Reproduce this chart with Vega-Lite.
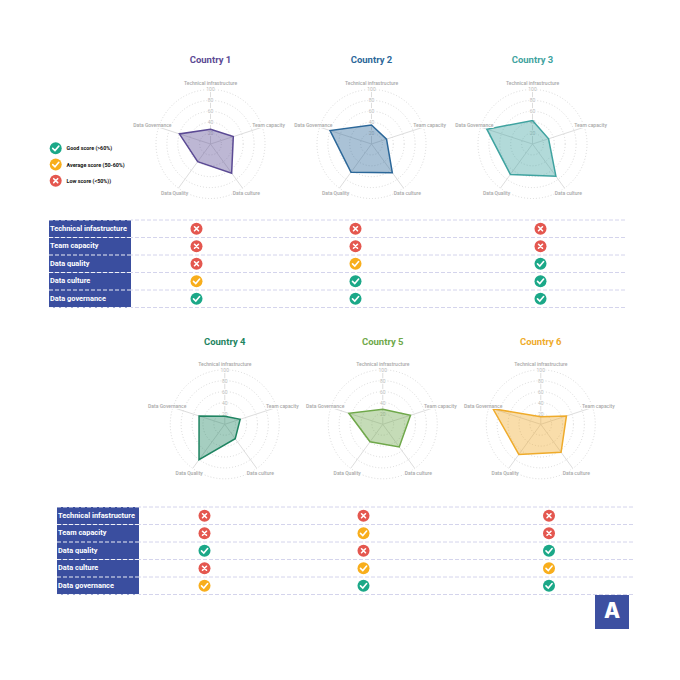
{"$schema":"https://vega.github.io/schema/vega-lite/v6.json","padding":0,"background":"white","autosize":{"type":"pad"},"spacing":0,"config":{"view":{"stroke":null},"text":{"font":"Roboto"}},
"datasets":{
"scores":[
{"country":"Country 1","metric":"Technical infrastructure","order":0,"score":27},{"country":"Country 1","metric":"Team capacity","order":1,"score":44},{"country":"Country 1","metric":"Data culture","order":2,"score":66},{"country":"Country 1","metric":"Data Quality","order":3,"score":40},{"country":"Country 1","metric":"Data Governance","order":4,"score":60},
{"country":"Country 2","metric":"Technical infrastructure","order":0,"score":35},{"country":"Country 2","metric":"Team capacity","order":1,"score":29},{"country":"Country 2","metric":"Data culture","order":2,"score":65},{"country":"Country 2","metric":"Data Quality","order":3,"score":64},{"country":"Country 2","metric":"Data Governance","order":4,"score":80},
{"country":"Country 3","metric":"Technical infrastructure","order":0,"score":43},{"country":"Country 3","metric":"Team capacity","order":1,"score":31},{"country":"Country 3","metric":"Data culture","order":2,"score":73},{"country":"Country 3","metric":"Data Quality","order":3,"score":69},{"country":"Country 3","metric":"Data Governance","order":4,"score":88},
{"country":"Country 4","metric":"Technical infrastructure","order":0,"score":15},{"country":"Country 4","metric":"Team capacity","order":1,"score":30},{"country":"Country 4","metric":"Data culture","order":2,"score":33},{"country":"Country 4","metric":"Data Quality","order":3,"score":81},{"country":"Country 4","metric":"Data Governance","order":4,"score":50},
{"country":"Country 5","metric":"Technical infrastructure","order":0,"score":28},{"country":"Country 5","metric":"Team capacity","order":1,"score":54},{"country":"Country 5","metric":"Data culture","order":2,"score":52},{"country":"Country 5","metric":"Data Quality","order":3,"score":40},{"country":"Country 5","metric":"Data Governance","order":4,"score":66},
{"country":"Country 6","metric":"Technical infrastructure","order":0,"score":14},{"country":"Country 6","metric":"Team capacity","order":1,"score":50},{"country":"Country 6","metric":"Data culture","order":2,"score":64},{"country":"Country 6","metric":"Data Quality","order":3,"score":69},{"country":"Country 6","metric":"Data Governance","order":4,"score":93}],
"rings":[{"ring":20},{"ring":40},{"ring":60},{"ring":80},{"ring":100}],
"rows":[{"metric":"Technical infastructure"},{"metric":"Team capacity"},{"metric":"Data quality"},{"metric":"Data culture"},{"metric":"Data governance"}],
"table1":[
{"country":1,"metric":"Technical infastructure","status":"low"},{"country":1,"metric":"Team capacity","status":"low"},{"country":1,"metric":"Data quality","status":"low"},{"country":1,"metric":"Data culture","status":"average"},{"country":1,"metric":"Data governance","status":"good"},
{"country":2,"metric":"Technical infastructure","status":"low"},{"country":2,"metric":"Team capacity","status":"low"},{"country":2,"metric":"Data quality","status":"average"},{"country":2,"metric":"Data culture","status":"good"},{"country":2,"metric":"Data governance","status":"good"},
{"country":3,"metric":"Technical infastructure","status":"low"},{"country":3,"metric":"Team capacity","status":"low"},{"country":3,"metric":"Data quality","status":"good"},{"country":3,"metric":"Data culture","status":"good"},{"country":3,"metric":"Data governance","status":"good"}],
"table2":[
{"country":4,"metric":"Technical infastructure","status":"low"},{"country":4,"metric":"Team capacity","status":"low"},{"country":4,"metric":"Data quality","status":"good"},{"country":4,"metric":"Data culture","status":"low"},{"country":4,"metric":"Data governance","status":"average"},
{"country":5,"metric":"Technical infastructure","status":"low"},{"country":5,"metric":"Team capacity","status":"average"},{"country":5,"metric":"Data quality","status":"low"},{"country":5,"metric":"Data culture","status":"average"},{"country":5,"metric":"Data governance","status":"good"},
{"country":6,"metric":"Technical infastructure","status":"low"},{"country":6,"metric":"Team capacity","status":"low"},{"country":6,"metric":"Data quality","status":"good"},{"country":6,"metric":"Data culture","status":"average"},{"country":6,"metric":"Data governance","status":"good"}],
"legend":[{"status":"good","label":"Good score (>60%)"},{"status":"average","label":"Average score (50-60%)"},{"status":"low","label":"Low score (<50%))"}]
},
"vconcat":[
{"hconcat":[
{"width":129.5,"height":219,"data":{"name":"legend"},"encoding":{"x":{"datum":0,"scale":{"domain":[-55.7,73.8]},"axis":null},"y":{"field":"status","type":"nominal","sort":null,"scale":{"type":"point","padding":0,"domain":["good","average","low"],"range":[148.3,180.7]},"axis":null}},"layer":[
{"mark":{"type":"point","filled":true,"opacity":1,"size":144},"encoding":{"color":{"field":"status","type":"nominal","scale":{"domain":["good","average","low"],"range":["#1BA888","#F8AE1C","#E4574F"]},"legend":null}}},
{"mark":{"type":"point","filled":false,"opacity":1,"size":144,"stroke":"white","strokeWidth":1.6,"strokeCap":"round"},"encoding":{"shape":{"field":"status","type":"nominal","scale":{"domain":["good","average","low"],"range":["M-0.5,0.02L-0.12,0.38L0.52,-0.36","M-0.5,0.02L-0.12,0.38L0.52,-0.36","M-0.33,-0.33L0.33,0.33M-0.33,0.33L0.33,-0.33"]},"legend":null}}},
{"mark":{"type":"text","align":"left","dx":10.8,"fontSize":5.4,"fontWeight":"bold","fill":"#111"},"encoding":{"text":{"field":"label"}}}]},
{"width":161,"height":219,"encoding":{"x":{"field":"px","type":"quantitative","scale":{"domain":[-147.7,147.7]},"axis":null},"y":{"field":"py","type":"quantitative","scale":{"domain":[-137.6,264.2]},"axis":null}},"layer":[
{"data":{"name":"rings"},"transform":[{"calculate":"0","as":"px"},{"calculate":"0","as":"py"}],"mark":{"type":"point","filled":false,"opacity":1,"stroke":"#cfcfcf","strokeWidth":0.8,"strokeDash":[1,2]},"encoding":{"size":{"field":"ring","type":"quantitative","scale":{"type":"pow","exponent":2,"domain":[0,100],"range":[0,11881]},"legend":null}}},
{"data":{"name":"scores"},"transform":[{"filter":"datum.country==='Country 1'"},{"calculate":"100*sin(2*PI*datum.order/5)","as":"px"},{"calculate":"100*cos(2*PI*datum.order/5)","as":"py"}],"mark":{"type":"rule","stroke":"#d9d9d9","strokeWidth":0.9},"encoding":{"x2":{"datum":0},"y2":{"datum":0}}},
{"data":{"name":"rings"},"transform":[{"calculate":"0","as":"px"},{"calculate":"datum.ring","as":"py"}],"mark":{"type":"text","fontSize":5,"stroke":"white","strokeWidth":2},"encoding":{"text":{"field":"ring"}}},
{"data":{"name":"rings"},"transform":[{"calculate":"0","as":"px"},{"calculate":"datum.ring","as":"py"}],"mark":{"type":"text","fontSize":5,"fill":"#bbbbbb"},"encoding":{"text":{"field":"ring"}}},
{"data":{"name":"scores"},"transform":[{"filter":"datum.country==='Country 1'"},{"calculate":"datum.score*sin(2*PI*datum.order/5)","as":"px"},{"calculate":"datum.score*cos(2*PI*datum.order/5)","as":"py"}],"mark":{"type":"line","interpolate":"linear-closed","stroke":"#5B4A94","strokeWidth":1.5,"fill":"#5B4A94","fillOpacity":0.4},"encoding":{"order":{"field":"order"}}},
{"data":{"name":"scores"},"transform":[{"filter":"datum.country==='Country 1'"},{"calculate":"112*sin(2*PI*datum.order/5)","as":"px"},{"calculate":"112*cos(2*PI*datum.order/5)","as":"py"}],"mark":{"type":"text","fontSize":5,"fontWeight":500,"stroke":"white","strokeWidth":2},"encoding":{"text":{"field":"metric"}}},
{"data":{"name":"scores"},"transform":[{"filter":"datum.country==='Country 1'"},{"calculate":"112*sin(2*PI*datum.order/5)","as":"px"},{"calculate":"112*cos(2*PI*datum.order/5)","as":"py"}],"mark":{"type":"text","fontSize":5,"fontWeight":500,"fill":"#a8a8a8"},"encoding":{"text":{"field":"metric"}}},
{"data":{"name":"scores"},"transform":[{"filter":"datum.country==='Country 1' && datum.order===0"},{"calculate":"0","as":"px"},{"calculate":"155","as":"py"}],"mark":{"type":"text","fontSize":9.5,"fontWeight":"bold","fill":"#5B4A94"},"encoding":{"text":{"field":"country"}}}]},
{"width":161,"height":219,"encoding":{"x":{"field":"px","type":"quantitative","scale":{"domain":[-147.7,147.7]},"axis":null},"y":{"field":"py","type":"quantitative","scale":{"domain":[-137.6,264.2]},"axis":null}},"layer":[
{"data":{"name":"rings"},"transform":[{"calculate":"0","as":"px"},{"calculate":"0","as":"py"}],"mark":{"type":"point","filled":false,"opacity":1,"stroke":"#cfcfcf","strokeWidth":0.8,"strokeDash":[1,2]},"encoding":{"size":{"field":"ring","type":"quantitative","scale":{"type":"pow","exponent":2,"domain":[0,100],"range":[0,11881]},"legend":null}}},
{"data":{"name":"scores"},"transform":[{"filter":"datum.country==='Country 2'"},{"calculate":"100*sin(2*PI*datum.order/5)","as":"px"},{"calculate":"100*cos(2*PI*datum.order/5)","as":"py"}],"mark":{"type":"rule","stroke":"#d9d9d9","strokeWidth":0.9},"encoding":{"x2":{"datum":0},"y2":{"datum":0}}},
{"data":{"name":"rings"},"transform":[{"calculate":"0","as":"px"},{"calculate":"datum.ring","as":"py"}],"mark":{"type":"text","fontSize":5,"stroke":"white","strokeWidth":2},"encoding":{"text":{"field":"ring"}}},
{"data":{"name":"rings"},"transform":[{"calculate":"0","as":"px"},{"calculate":"datum.ring","as":"py"}],"mark":{"type":"text","fontSize":5,"fill":"#bbbbbb"},"encoding":{"text":{"field":"ring"}}},
{"data":{"name":"scores"},"transform":[{"filter":"datum.country==='Country 2'"},{"calculate":"datum.score*sin(2*PI*datum.order/5)","as":"px"},{"calculate":"datum.score*cos(2*PI*datum.order/5)","as":"py"}],"mark":{"type":"line","interpolate":"linear-closed","stroke":"#2B6799","strokeWidth":1.5,"fill":"#2B6799","fillOpacity":0.4},"encoding":{"order":{"field":"order"}}},
{"data":{"name":"scores"},"transform":[{"filter":"datum.country==='Country 2'"},{"calculate":"112*sin(2*PI*datum.order/5)","as":"px"},{"calculate":"112*cos(2*PI*datum.order/5)","as":"py"}],"mark":{"type":"text","fontSize":5,"fontWeight":500,"stroke":"white","strokeWidth":2},"encoding":{"text":{"field":"metric"}}},
{"data":{"name":"scores"},"transform":[{"filter":"datum.country==='Country 2'"},{"calculate":"112*sin(2*PI*datum.order/5)","as":"px"},{"calculate":"112*cos(2*PI*datum.order/5)","as":"py"}],"mark":{"type":"text","fontSize":5,"fontWeight":500,"fill":"#a8a8a8"},"encoding":{"text":{"field":"metric"}}},
{"data":{"name":"scores"},"transform":[{"filter":"datum.country==='Country 2' && datum.order===0"},{"calculate":"0","as":"px"},{"calculate":"155","as":"py"}],"mark":{"type":"text","fontSize":9.5,"fontWeight":"bold","fill":"#2B6799"},"encoding":{"text":{"field":"country"}}}]},
{"width":161,"height":219,"encoding":{"x":{"field":"px","type":"quantitative","scale":{"domain":[-147.7,147.7]},"axis":null},"y":{"field":"py","type":"quantitative","scale":{"domain":[-137.6,264.2]},"axis":null}},"layer":[
{"data":{"name":"rings"},"transform":[{"calculate":"0","as":"px"},{"calculate":"0","as":"py"}],"mark":{"type":"point","filled":false,"opacity":1,"stroke":"#cfcfcf","strokeWidth":0.8,"strokeDash":[1,2]},"encoding":{"size":{"field":"ring","type":"quantitative","scale":{"type":"pow","exponent":2,"domain":[0,100],"range":[0,11881]},"legend":null}}},
{"data":{"name":"scores"},"transform":[{"filter":"datum.country==='Country 3'"},{"calculate":"100*sin(2*PI*datum.order/5)","as":"px"},{"calculate":"100*cos(2*PI*datum.order/5)","as":"py"}],"mark":{"type":"rule","stroke":"#d9d9d9","strokeWidth":0.9},"encoding":{"x2":{"datum":0},"y2":{"datum":0}}},
{"data":{"name":"rings"},"transform":[{"calculate":"0","as":"px"},{"calculate":"datum.ring","as":"py"}],"mark":{"type":"text","fontSize":5,"stroke":"white","strokeWidth":2},"encoding":{"text":{"field":"ring"}}},
{"data":{"name":"rings"},"transform":[{"calculate":"0","as":"px"},{"calculate":"datum.ring","as":"py"}],"mark":{"type":"text","fontSize":5,"fill":"#bbbbbb"},"encoding":{"text":{"field":"ring"}}},
{"data":{"name":"scores"},"transform":[{"filter":"datum.country==='Country 3'"},{"calculate":"datum.score*sin(2*PI*datum.order/5)","as":"px"},{"calculate":"datum.score*cos(2*PI*datum.order/5)","as":"py"}],"mark":{"type":"line","interpolate":"linear-closed","stroke":"#3FA3A0","strokeWidth":1.5,"fill":"#3FA3A0","fillOpacity":0.4},"encoding":{"order":{"field":"order"}}},
{"data":{"name":"scores"},"transform":[{"filter":"datum.country==='Country 3'"},{"calculate":"112*sin(2*PI*datum.order/5)","as":"px"},{"calculate":"112*cos(2*PI*datum.order/5)","as":"py"}],"mark":{"type":"text","fontSize":5,"fontWeight":500,"stroke":"white","strokeWidth":2},"encoding":{"text":{"field":"metric"}}},
{"data":{"name":"scores"},"transform":[{"filter":"datum.country==='Country 3'"},{"calculate":"112*sin(2*PI*datum.order/5)","as":"px"},{"calculate":"112*cos(2*PI*datum.order/5)","as":"py"}],"mark":{"type":"text","fontSize":5,"fontWeight":500,"fill":"#a8a8a8"},"encoding":{"text":{"field":"metric"}}},
{"data":{"name":"scores"},"transform":[{"filter":"datum.country==='Country 3' && datum.order===0"},{"calculate":"0","as":"px"},{"calculate":"155","as":"py"}],"mark":{"type":"text","fontSize":9.5,"fontWeight":"bold","fill":"#3FA3A0"},"encoding":{"text":{"field":"country"}}}]}
],"spacing":0,"bounds":"flush"},
{"hconcat":[
{"width":49,"height":87.5,"data":{"name":"rows"},"mark":{"type":"point","opacity":0},"encoding":{}},
{"width":82,"height":87.5,"data":{"name":"rows"},"encoding":{"y":{"field":"metric","type":"nominal","sort":null,"scale":{"paddingInner":0,"paddingOuter":0},"axis":null}},"layer":[
{"mark":{"type":"rect","fill":"#3A4E9F"}},
{"mark":{"type":"rule","stroke":"white","strokeWidth":0.9,"strokeDash":[4,2]},"encoding":{"y":{"field":"metric","type":"nominal","sort":null,"bandPosition":0,"axis":null}}},
{"transform":[{"filter":"datum.metric==='Data governance'"}],"mark":{"type":"rule","stroke":"white","strokeWidth":0.9,"strokeDash":[4,2]},"encoding":{"y":{"field":"metric","type":"nominal","sort":null,"bandPosition":1,"axis":null}}},
{"mark":{"type":"text","align":"left","dx":1,"fontSize":7.4,"fontWeight":"bold","fill":"white"},"encoding":{"x":{"datum":0,"scale":{"domain":[0,1]},"axis":null},"text":{"field":"metric"}}}]},
{"width":494,"height":87.5,"encoding":{"y":{"field":"metric","type":"nominal","sort":null,"scale":{"domain":["Technical infastructure","Team capacity","Data quality","Data culture","Data governance"],"paddingInner":0,"paddingOuter":0},"axis":null}},"layer":[
{"data":{"name":"rows"},"mark":{"type":"rule","stroke":"#CFCFEA","strokeWidth":0.9,"strokeDash":[4,2]},"encoding":{"y":{"field":"metric","type":"nominal","sort":null,"bandPosition":0,"axis":null}}},
{"data":{"name":"rows"},"transform":[{"filter":"datum.metric==='Data governance'"}],"mark":{"type":"rule","stroke":"#CFCFEA","strokeWidth":0.9,"strokeDash":[4,2]},"encoding":{"y":{"field":"metric","type":"nominal","sort":null,"bandPosition":1,"axis":null}}},
{"data":{"name":"table1"},"mark":{"type":"point","filled":true,"opacity":1,"size":144},"encoding":{"x":{"field":"country","type":"quantitative","scale":{"type":"linear","domain":[1,2,3],"range":[65.5,224.5,409.5]},"axis":null},"color":{"field":"status","type":"nominal","scale":{"domain":["good","average","low"],"range":["#1BA888","#F8AE1C","#E4574F"]},"legend":null}}},
{"data":{"name":"table1"},"mark":{"type":"point","filled":false,"opacity":1,"size":144,"stroke":"white","strokeWidth":1.6,"strokeCap":"round"},"encoding":{"x":{"field":"country","type":"quantitative","scale":{"type":"linear","domain":[1,2,3],"range":[65.5,224.5,409.5]},"axis":null},"shape":{"field":"status","type":"nominal","scale":{"domain":["good","average","low"],"range":["M-0.5,0.02L-0.12,0.38L0.52,-0.36","M-0.5,0.02L-0.12,0.38L0.52,-0.36","M-0.33,-0.33L0.33,0.33M-0.33,0.33L0.33,-0.33"]},"legend":null}}}]}
],"spacing":0,"bounds":"flush"},
{"hconcat":[
{"width":145.7,"height":198,"data":{"name":"rows"},"mark":{"type":"point","opacity":0},"encoding":{}},
{"width":157.5,"height":198,"encoding":{"x":{"field":"px","type":"quantitative","scale":{"domain":[-145.8,145.8]},"axis":null},"y":{"field":"py","type":"quantitative","scale":{"domain":[-151.3,215.4]},"axis":null}},"layer":[
{"data":{"name":"rings"},"transform":[{"calculate":"0","as":"px"},{"calculate":"0","as":"py"}],"mark":{"type":"point","filled":false,"opacity":1,"stroke":"#cfcfcf","strokeWidth":0.8,"strokeDash":[1,2]},"encoding":{"size":{"field":"ring","type":"quantitative","scale":{"type":"pow","exponent":2,"domain":[0,100],"range":[0,11664]},"legend":null}}},
{"data":{"name":"scores"},"transform":[{"filter":"datum.country==='Country 4'"},{"calculate":"100*sin(2*PI*datum.order/5)","as":"px"},{"calculate":"100*cos(2*PI*datum.order/5)","as":"py"}],"mark":{"type":"rule","stroke":"#d9d9d9","strokeWidth":0.9},"encoding":{"x2":{"datum":0},"y2":{"datum":0}}},
{"data":{"name":"rings"},"transform":[{"calculate":"0","as":"px"},{"calculate":"datum.ring","as":"py"}],"mark":{"type":"text","fontSize":5,"stroke":"white","strokeWidth":2},"encoding":{"text":{"field":"ring"}}},
{"data":{"name":"rings"},"transform":[{"calculate":"0","as":"px"},{"calculate":"datum.ring","as":"py"}],"mark":{"type":"text","fontSize":5,"fill":"#bbbbbb"},"encoding":{"text":{"field":"ring"}}},
{"data":{"name":"scores"},"transform":[{"filter":"datum.country==='Country 4'"},{"calculate":"datum.score*sin(2*PI*datum.order/5)","as":"px"},{"calculate":"datum.score*cos(2*PI*datum.order/5)","as":"py"}],"mark":{"type":"line","interpolate":"linear-closed","stroke":"#1E8461","strokeWidth":1.5,"fill":"#1E8461","fillOpacity":0.4},"encoding":{"order":{"field":"order"}}},
{"data":{"name":"scores"},"transform":[{"filter":"datum.country==='Country 4'"},{"calculate":"112*sin(2*PI*datum.order/5)","as":"px"},{"calculate":"112*cos(2*PI*datum.order/5)","as":"py"}],"mark":{"type":"text","fontSize":5,"fontWeight":500,"stroke":"white","strokeWidth":2},"encoding":{"text":{"field":"metric"}}},
{"data":{"name":"scores"},"transform":[{"filter":"datum.country==='Country 4'"},{"calculate":"112*sin(2*PI*datum.order/5)","as":"px"},{"calculate":"112*cos(2*PI*datum.order/5)","as":"py"}],"mark":{"type":"text","fontSize":5,"fontWeight":500,"fill":"#a8a8a8"},"encoding":{"text":{"field":"metric"}}},
{"data":{"name":"scores"},"transform":[{"filter":"datum.country==='Country 4' && datum.order===0"},{"calculate":"0","as":"px"},{"calculate":"153","as":"py"}],"mark":{"type":"text","fontSize":9.5,"fontWeight":"bold","fill":"#1E8461"},"encoding":{"text":{"field":"country"}}}]},
{"width":157.5,"height":198,"encoding":{"x":{"field":"px","type":"quantitative","scale":{"domain":[-145.8,145.8]},"axis":null},"y":{"field":"py","type":"quantitative","scale":{"domain":[-151.3,215.4]},"axis":null}},"layer":[
{"data":{"name":"rings"},"transform":[{"calculate":"0","as":"px"},{"calculate":"0","as":"py"}],"mark":{"type":"point","filled":false,"opacity":1,"stroke":"#cfcfcf","strokeWidth":0.8,"strokeDash":[1,2]},"encoding":{"size":{"field":"ring","type":"quantitative","scale":{"type":"pow","exponent":2,"domain":[0,100],"range":[0,11664]},"legend":null}}},
{"data":{"name":"scores"},"transform":[{"filter":"datum.country==='Country 5'"},{"calculate":"100*sin(2*PI*datum.order/5)","as":"px"},{"calculate":"100*cos(2*PI*datum.order/5)","as":"py"}],"mark":{"type":"rule","stroke":"#d9d9d9","strokeWidth":0.9},"encoding":{"x2":{"datum":0},"y2":{"datum":0}}},
{"data":{"name":"rings"},"transform":[{"calculate":"0","as":"px"},{"calculate":"datum.ring","as":"py"}],"mark":{"type":"text","fontSize":5,"stroke":"white","strokeWidth":2},"encoding":{"text":{"field":"ring"}}},
{"data":{"name":"rings"},"transform":[{"calculate":"0","as":"px"},{"calculate":"datum.ring","as":"py"}],"mark":{"type":"text","fontSize":5,"fill":"#bbbbbb"},"encoding":{"text":{"field":"ring"}}},
{"data":{"name":"scores"},"transform":[{"filter":"datum.country==='Country 5'"},{"calculate":"datum.score*sin(2*PI*datum.order/5)","as":"px"},{"calculate":"datum.score*cos(2*PI*datum.order/5)","as":"py"}],"mark":{"type":"line","interpolate":"linear-closed","stroke":"#6FA84A","strokeWidth":1.5,"fill":"#6FA84A","fillOpacity":0.4},"encoding":{"order":{"field":"order"}}},
{"data":{"name":"scores"},"transform":[{"filter":"datum.country==='Country 5'"},{"calculate":"112*sin(2*PI*datum.order/5)","as":"px"},{"calculate":"112*cos(2*PI*datum.order/5)","as":"py"}],"mark":{"type":"text","fontSize":5,"fontWeight":500,"stroke":"white","strokeWidth":2},"encoding":{"text":{"field":"metric"}}},
{"data":{"name":"scores"},"transform":[{"filter":"datum.country==='Country 5'"},{"calculate":"112*sin(2*PI*datum.order/5)","as":"px"},{"calculate":"112*cos(2*PI*datum.order/5)","as":"py"}],"mark":{"type":"text","fontSize":5,"fontWeight":500,"fill":"#a8a8a8"},"encoding":{"text":{"field":"metric"}}},
{"data":{"name":"scores"},"transform":[{"filter":"datum.country==='Country 5' && datum.order===0"},{"calculate":"0","as":"px"},{"calculate":"153","as":"py"}],"mark":{"type":"text","fontSize":9.5,"fontWeight":"bold","fill":"#6FA84A"},"encoding":{"text":{"field":"country"}}}]},
{"width":157.5,"height":198,"encoding":{"x":{"field":"px","type":"quantitative","scale":{"domain":[-145.8,145.8]},"axis":null},"y":{"field":"py","type":"quantitative","scale":{"domain":[-151.3,215.4]},"axis":null}},"layer":[
{"data":{"name":"rings"},"transform":[{"calculate":"0","as":"px"},{"calculate":"0","as":"py"}],"mark":{"type":"point","filled":false,"opacity":1,"stroke":"#cfcfcf","strokeWidth":0.8,"strokeDash":[1,2]},"encoding":{"size":{"field":"ring","type":"quantitative","scale":{"type":"pow","exponent":2,"domain":[0,100],"range":[0,11664]},"legend":null}}},
{"data":{"name":"scores"},"transform":[{"filter":"datum.country==='Country 6'"},{"calculate":"100*sin(2*PI*datum.order/5)","as":"px"},{"calculate":"100*cos(2*PI*datum.order/5)","as":"py"}],"mark":{"type":"rule","stroke":"#d9d9d9","strokeWidth":0.9},"encoding":{"x2":{"datum":0},"y2":{"datum":0}}},
{"data":{"name":"rings"},"transform":[{"calculate":"0","as":"px"},{"calculate":"datum.ring","as":"py"}],"mark":{"type":"text","fontSize":5,"stroke":"white","strokeWidth":2},"encoding":{"text":{"field":"ring"}}},
{"data":{"name":"rings"},"transform":[{"calculate":"0","as":"px"},{"calculate":"datum.ring","as":"py"}],"mark":{"type":"text","fontSize":5,"fill":"#bbbbbb"},"encoding":{"text":{"field":"ring"}}},
{"data":{"name":"scores"},"transform":[{"filter":"datum.country==='Country 6'"},{"calculate":"datum.score*sin(2*PI*datum.order/5)","as":"px"},{"calculate":"datum.score*cos(2*PI*datum.order/5)","as":"py"}],"mark":{"type":"line","interpolate":"linear-closed","stroke":"#EFAB2B","strokeWidth":1.5,"fill":"#EFAB2B","fillOpacity":0.4},"encoding":{"order":{"field":"order"}}},
{"data":{"name":"scores"},"transform":[{"filter":"datum.country==='Country 6'"},{"calculate":"112*sin(2*PI*datum.order/5)","as":"px"},{"calculate":"112*cos(2*PI*datum.order/5)","as":"py"}],"mark":{"type":"text","fontSize":5,"fontWeight":500,"stroke":"white","strokeWidth":2},"encoding":{"text":{"field":"metric"}}},
{"data":{"name":"scores"},"transform":[{"filter":"datum.country==='Country 6'"},{"calculate":"112*sin(2*PI*datum.order/5)","as":"px"},{"calculate":"112*cos(2*PI*datum.order/5)","as":"py"}],"mark":{"type":"text","fontSize":5,"fontWeight":500,"fill":"#a8a8a8"},"encoding":{"text":{"field":"metric"}}},
{"data":{"name":"scores"},"transform":[{"filter":"datum.country==='Country 6' && datum.order===0"},{"calculate":"0","as":"px"},{"calculate":"153","as":"py"}],"mark":{"type":"text","fontSize":9.5,"fontWeight":"bold","fill":"#EFAB2B"},"encoding":{"text":{"field":"country"}}}]}
],"spacing":0,"bounds":"flush"},
{"hconcat":[
{"width":56.5,"height":87.5,"data":{"name":"rows"},"mark":{"type":"point","opacity":0},"encoding":{}},
{"width":82,"height":87.5,"data":{"name":"rows"},"encoding":{"y":{"field":"metric","type":"nominal","sort":null,"scale":{"paddingInner":0,"paddingOuter":0},"axis":null}},"layer":[
{"mark":{"type":"rect","fill":"#3A4E9F"}},
{"mark":{"type":"rule","stroke":"white","strokeWidth":0.9,"strokeDash":[4,2]},"encoding":{"y":{"field":"metric","type":"nominal","sort":null,"bandPosition":0,"axis":null}}},
{"transform":[{"filter":"datum.metric==='Data governance'"}],"mark":{"type":"rule","stroke":"white","strokeWidth":0.9,"strokeDash":[4,2]},"encoding":{"y":{"field":"metric","type":"nominal","sort":null,"bandPosition":1,"axis":null}}},
{"mark":{"type":"text","align":"left","dx":1,"fontSize":7.4,"fontWeight":"bold","fill":"white"},"encoding":{"x":{"datum":0,"scale":{"domain":[0,1]},"axis":null},"text":{"field":"metric"}}}]},
{"width":494,"height":87.5,"encoding":{"y":{"field":"metric","type":"nominal","sort":null,"scale":{"domain":["Technical infastructure","Team capacity","Data quality","Data culture","Data governance"],"paddingInner":0,"paddingOuter":0},"axis":null}},"layer":[
{"data":{"name":"rows"},"mark":{"type":"rule","stroke":"#CFCFEA","strokeWidth":0.9,"strokeDash":[4,2]},"encoding":{"y":{"field":"metric","type":"nominal","sort":null,"bandPosition":0,"axis":null}}},
{"data":{"name":"rows"},"transform":[{"filter":"datum.metric==='Data governance'"}],"mark":{"type":"rule","stroke":"#CFCFEA","strokeWidth":0.9,"strokeDash":[4,2]},"encoding":{"y":{"field":"metric","type":"nominal","sort":null,"bandPosition":1,"axis":null}}},
{"data":{"name":"table2"},"mark":{"type":"point","filled":true,"opacity":1,"size":144},"encoding":{"x":{"field":"country","type":"quantitative","scale":{"type":"linear","domain":[4,5,6],"range":[65.5,224.5,410]},"axis":null},"color":{"field":"status","type":"nominal","scale":{"domain":["good","average","low"],"range":["#1BA888","#F8AE1C","#E4574F"]},"legend":null}}},
{"data":{"name":"table2"},"mark":{"type":"point","filled":false,"opacity":1,"size":144,"stroke":"white","strokeWidth":1.6,"strokeCap":"round"},"encoding":{"x":{"field":"country","type":"quantitative","scale":{"type":"linear","domain":[4,5,6],"range":[65.5,224.5,410]},"axis":null},"shape":{"field":"status","type":"nominal","scale":{"domain":["good","average","low"],"range":["M-0.5,0.02L-0.12,0.38L0.52,-0.36","M-0.5,0.02L-0.12,0.38L0.52,-0.36","M-0.33,-0.33L0.33,0.33M-0.33,0.33L0.33,-0.33"]},"legend":null}}}]}
],"spacing":0,"bounds":"flush"},
{"hconcat":[
{"width":595,"height":34,"data":{"name":"rows"},"mark":{"type":"point","opacity":0},"encoding":{}},
{"width":34,"height":34,"data":{"values":[{"logo":"A"}]},"layer":[
{"mark":{"type":"rect","fill":"#3D50A1"}},
{"mark":{"type":"text","font":"Inter","fontWeight":800,"fontSize":21,"fill":"white"},"encoding":{"text":{"field":"logo"}}}]}
],"spacing":0,"bounds":"flush"}
]}
